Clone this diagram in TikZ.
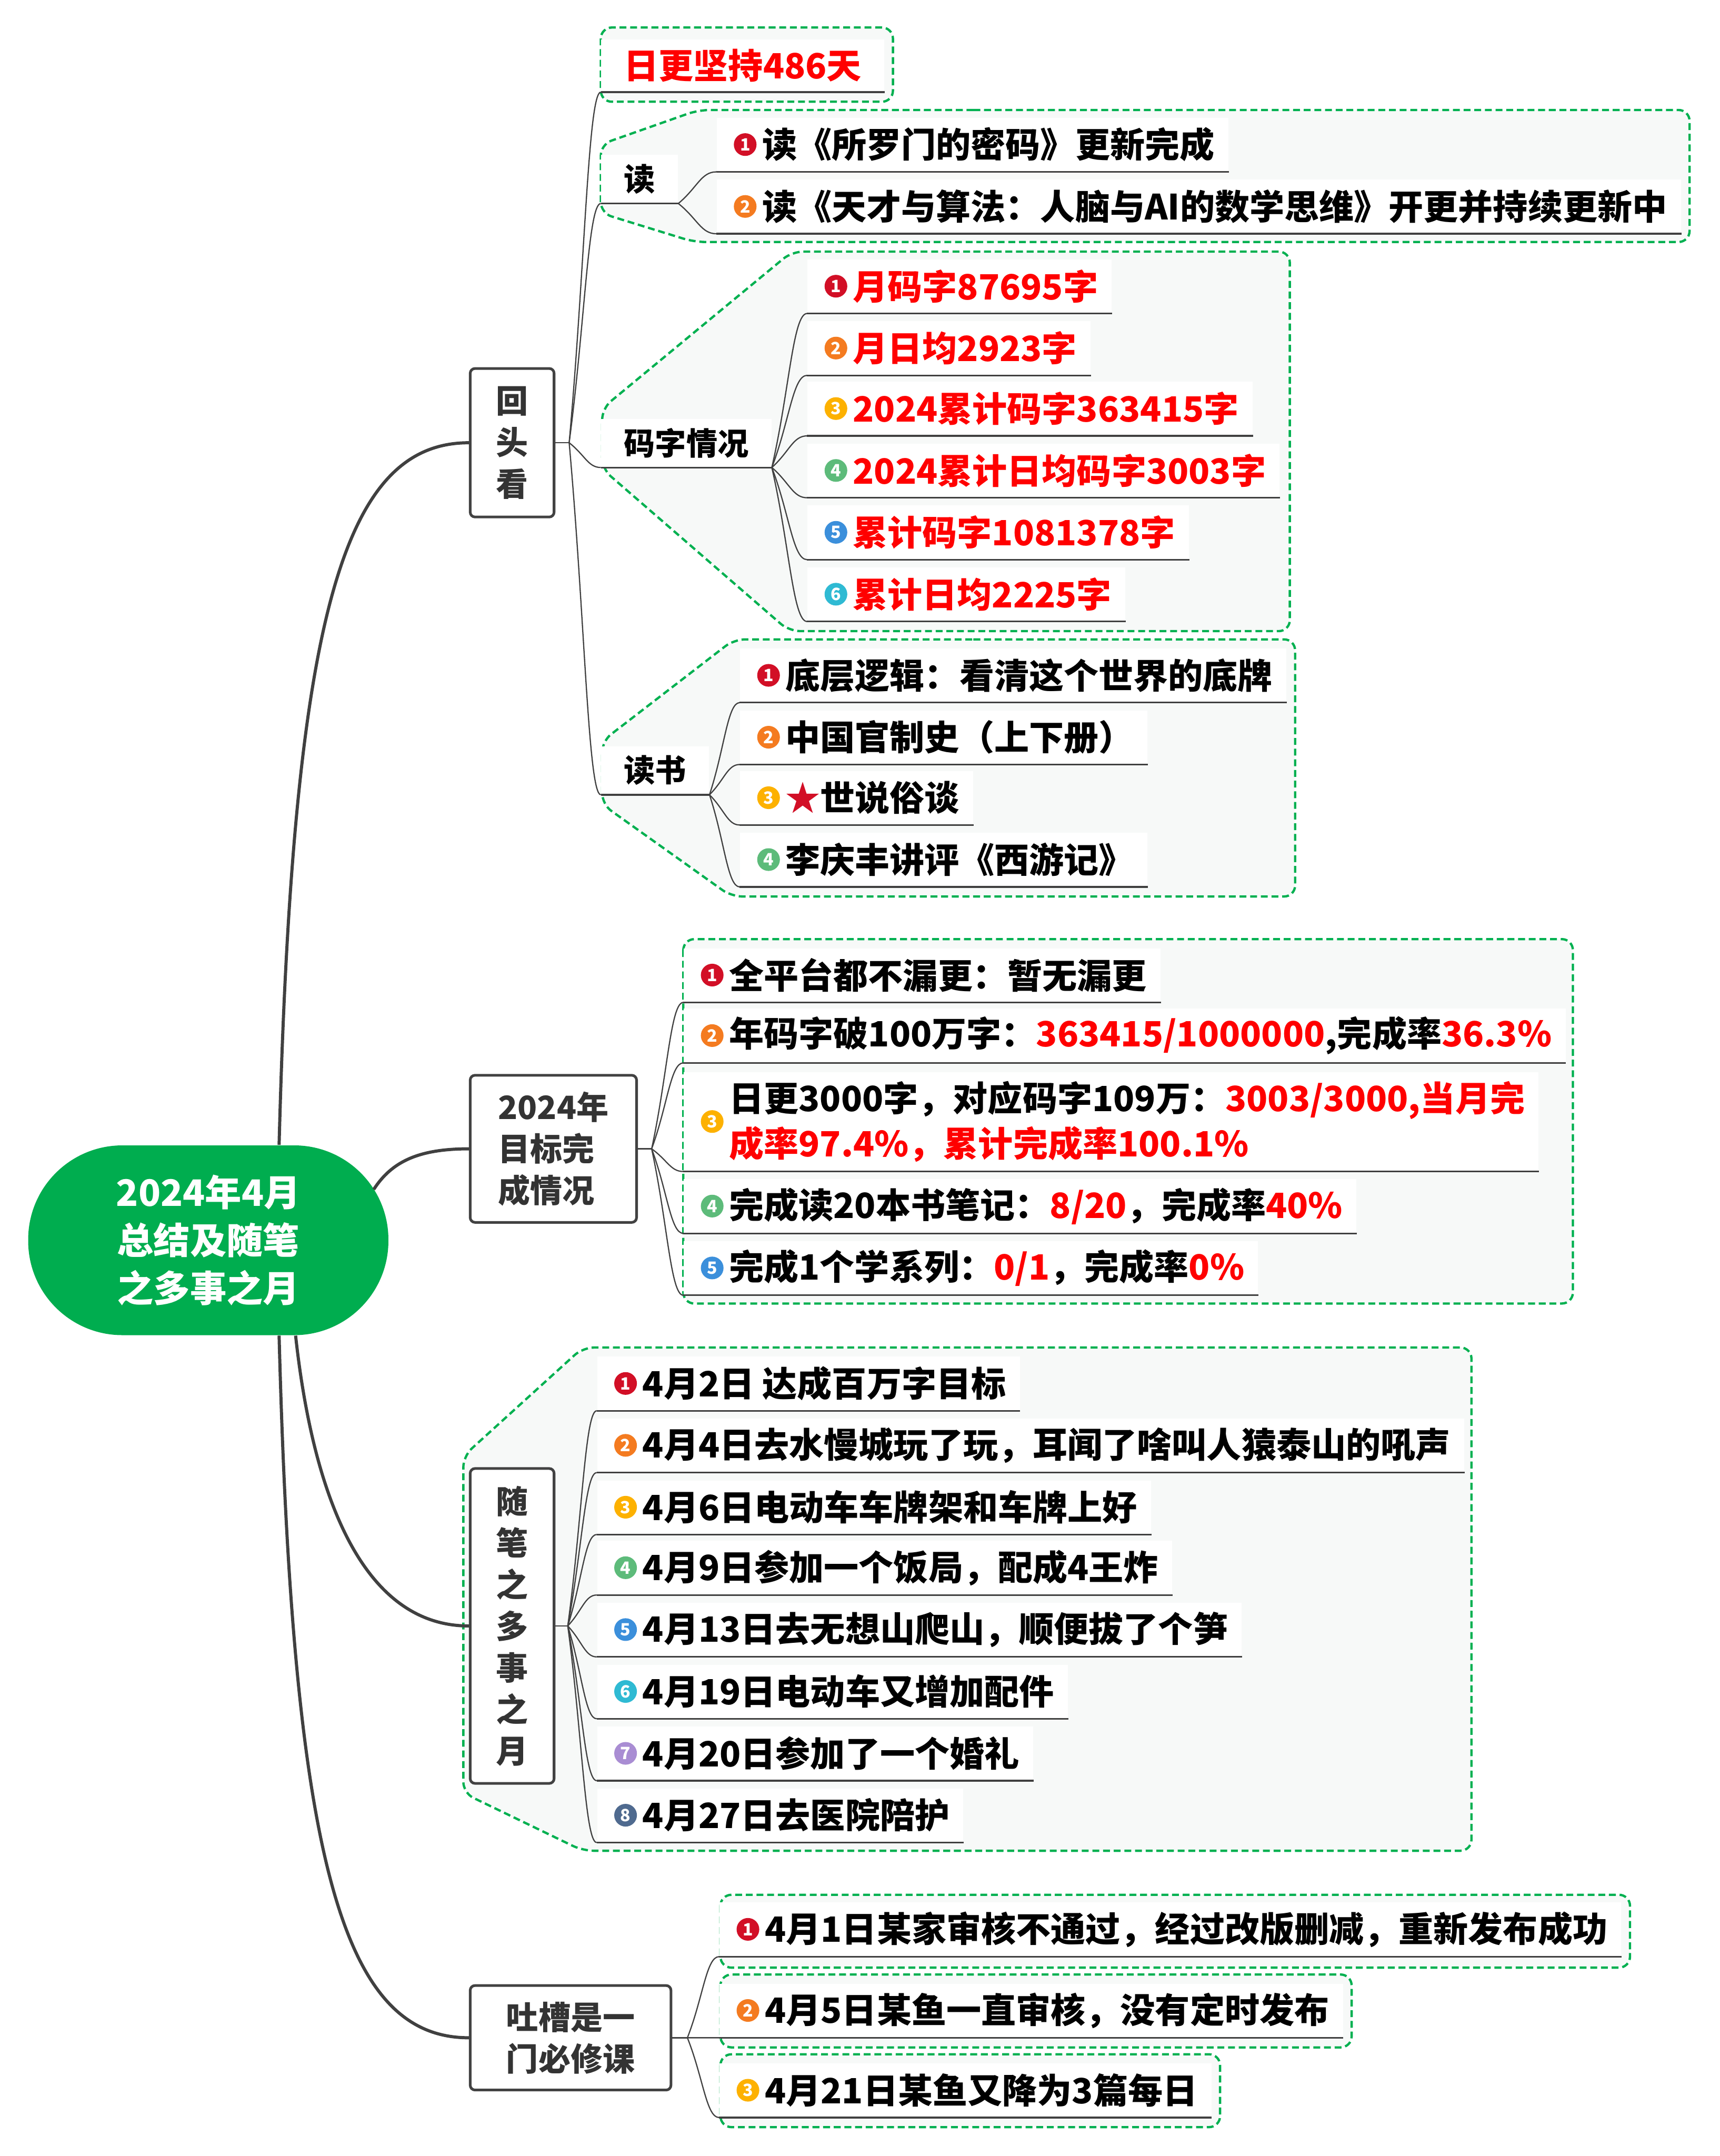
\documentclass[tikz,border=0pt]{standalone}
\usepackage{fontspec}
\setmainfont{Noto Sans CJK SC}
\usepackage{tikz}
\usetikzlibrary{calc, backgrounds}
\definecolor{rootgreen}{HTML}{00AD4F}
\definecolor{dashgreen}{HTML}{00B050}
\definecolor{zone}     {HTML}{F7F9F8}
\definecolor{wire}     {HTML}{404040}
\definecolor{boxline}  {HTML}{424242}
\definecolor{boxtext}  {HTML}{333333}
\definecolor{hl}       {HTML}{FF0000}
\definecolor{b1}{HTML}{D20F26}
\definecolor{b2}{HTML}{F47B20}
\definecolor{b3}{HTML}{FDB100}
\definecolor{b4}{HTML}{5DBB7A}
\definecolor{b5}{HTML}{3B8FDB}
\definecolor{b6}{HTML}{2FBAD3}
\definecolor{b7}{HTML}{A98DD3}
\definecolor{b8}{HTML}{4F6A8F}
\newcommand{\rootfont}{\fontsize{15.1}{19.9}\selectfont\bfseries}
\newcommand{\headfont}{\fontsize{13.3}{17.2}\selectfont\bfseries}
\newcommand{\topicfont}{\fontsize{12.9}{16}\selectfont\bfseries}
\newcommand{\itemfont}{\fontsize{14.4}{18.8}\selectfont\bfseries}

\begin{document}
\begin{tikzpicture}[x=0.2mm, y=-0.2mm,
    trunk/.style={draw=wire, line width=1.3pt},
    twig/.style={draw=wire, line width=0.5pt},
    branch/.style={twig, to path={.. controls ($(\tikztostart)!0.5!(\tikztotarget)$) and ($(\tikztostart |- \tikztotarget)!0.6!(\tikztotarget)$) .. (\tikztotarget) \tikztonodes}},
    uline/.style={draw=wire, line width=0.7pt},
    zonebox/.style={draw=dashgreen, fill=zone, line width=0.95pt, dash pattern=on 1mm off 0.55mm, rounded corners=1.6mm},
    root/.style={fill=rootgreen, text=white, rounded corners=13.7mm, minimum width=52.4mm, minimum height=27.6mm, align=center, font=\rootfont},
    head/.style={draw=boxline, line width=1.1pt, fill=white, rounded corners=0.7mm, text=boxtext, align=center, font=\headfont},
    topic/.style={anchor=south west, fill=white, inner xsep=3.3mm, inner ysep=0pt, minimum height=7mm, font=\topicfont},
    item/.style={anchor=south west, fill=white, inner xsep=2mm, inner ysep=0pt, minimum height=7.8mm, align=left, font=\itemfont},
    badge/.style={circle, fill=#1, inner sep=0pt, minimum size=3.3mm, text=white, font=\fontsize{7}{7}\selectfont\bfseries}]
  \useasboundingbox (0,0) rectangle (1251,1568);

  % centre and main topics
  \node[root] (root) at (151.5,902) {2024年4月\\总结及随笔\\之多事之月};
  \node[head, minimum width=12.2mm, minimum height=21.6mm] (hui) at (372.5,322) {回\\头\\看};
  \node[head, minimum width=24.2mm, minimum height=21.4mm, align=left] (goal) at (402.5,835.5) {2024年\\目标完\\成情况};
  \node[head, minimum width=12.2mm, minimum height=45.8mm] (sui) at (372.5,1182.5) {随\\笔\\之\\多\\事\\之\\月};
  \node[head, minimum width=29.2mm, minimum height=15.2mm, align=left] (tu) at (415,1482) {吐槽是一\\门必修课};

  \draw[trunk] ($(root.north)+(51.5,0)$) .. controls +(10,-383) and +(-92,0) .. (hui.west);
  \draw[trunk] ($(root.east)+(-11,-37)$) .. controls +(13,-20) and +(-37,0) .. (goal.west);
  \draw[trunk] ($(root.south)+(63.5,0)$) .. controls +(12,110) and +(-80,0) .. (sui.west);
  \draw[trunk] ($(root.south)+(51.5,0)$) .. controls +(10,383) and +(-92,0) .. (tu.west);

  % look back
  \node[topic, text=hl, font=\itemfont, minimum height=7.6mm] (rg) at (437,67) {日更坚持486天};
  \node[topic] (du) at (437,148) {读};
  \node[topic] (mz) at (437,340) {码字情况};
  \node[topic] (ds) at (437,578) {读书};
  \coordinate (hb) at ($(hui.east)+(10,0)$);
  \draw[twig] (hui.east) -- (hb);
  \foreach \t in {rg,du,mz,ds} {
    \draw[branch] (hb) to (\t.south west);
    \draw[uline] (\t.south west) -- (\t.south east);
  }

  \foreach \n/\yy/\tx in {1/125/{读《所罗门的密码》更新完成},
      2/170/{读《天才与算法：人脑与AI的数学思维》开更并持续更新中}} {
    \node[item] (du\n) at (521,\yy) {\hspace*{4.6mm}\tx};
    \node[badge=b\n] at ([xshift=4.2mm]du\n.west) {\n};
    \draw[branch] (du.south east) to (du\n.south west);
    \draw[uline] (du\n.south west) -- (du\n.south east);
  }

  \foreach \n/\yy/\tx in {1/228/{月码字87695字}, 2/273/{月日均2923字},
      3/317/{2024累计码字363415字}, 4/362/{2024累计日均码字3003字},
      5/407/{累计码字1081378字}, 6/452/{累计日均2225字}} {
    \node[item, text=hl] (mz\n) at (587,\yy) {\hspace*{4.6mm}\tx};
    \node[badge=b\n] at ([xshift=4.2mm]mz\n.west) {\n};
    \draw[branch] (mz.south east) to (mz\n.south west);
    \draw[uline] (mz\n.south west) -- (mz\n.south east);
  }

  \foreach \n/\yy/\tx in {1/511/{底层逻辑：看清这个世界的底牌}, 2/556/{中国官制史（上下册）},
      3/600/{\textcolor{b1}{★}世说俗谈}, 4/645/{李庆丰讲评《西游记》}} {
    \node[item] (ds\n) at (538,\yy) {\hspace*{4.6mm}\tx};
    \node[badge=b\n] at ([xshift=4.2mm]ds\n.west) {\n};
    \draw[branch] (ds.south east) to (ds\n.south west);
    \draw[uline] (ds\n.south west) -- (ds\n.south east);
  }

  % goals
  \coordinate (gb) at ($(goal.east)+(10,0)$);
  \draw[twig] (goal.east) -- (gb);
  \foreach \n/\yy/\tx in {1/729/{全平台都不漏更：暂无漏更},
      2/773/{年码字破100万字：\textcolor{hl}{363415/1000000},完成率\textcolor{hl}{36.3\%}},
      4/897/{完成读20本书笔记：\textcolor{hl}{8/20}，完成率\textcolor{hl}{40\%}},
      5/942/{完成1个学系列：\textcolor{hl}{0/1}，完成率\textcolor{hl}{0\%}}} {
    \node[item] (g\n) at (497,\yy) {\hspace*{4.6mm}\tx};
  }
  \node[item, minimum height=14.4mm] (g3) at (497,852) {\hspace*{4.6mm}日更3000字，对应码字109万：\textcolor{hl}{3003/3000,当月完}\\\hspace*{4.6mm}\textcolor{hl}{成率97.4\%，累计完成率100.1\%}};
  \foreach \n in {1,...,5} {
    \node[badge=b\n] at ([xshift=4.2mm]g\n.west) {\n};
    \draw[branch] (gb) to (g\n.south west);
    \draw[uline] (g\n.south west) -- (g\n.south east);
  }

  % essays
  \coordinate (sb) at ($(sui.east)+(9,0)$);
  \draw[twig] (sui.east) -- (sb);
  \foreach \n/\yy/\tx in {1/1026/{4月2日 达成百万字目标},
      2/1071/{4月4日去水慢城玩了玩，耳闻了啥叫人猿泰山的吼声},
      3/1116/{4月6日电动车车牌架和车牌上好}, 4/1160/{4月9日参加一个饭局，配成4王炸},
      5/1205/{4月13日去无想山爬山，顺便拔了个笋}, 6/1250/{4月19日电动车又增加配件},
      7/1295/{4月20日参加了一个婚礼}, 8/1340/{4月27日去医院陪护}} {
    \node[item] (s\n) at (434,\yy) {\hspace*{4.6mm}\tx};
    \node[badge=b\n] at ([xshift=4.2mm]s\n.west) {\n};
    \draw[branch] (sb) to (s\n.south west);
    \draw[uline] (s\n.south west) -- (s\n.south east);
  }

  % complaints
  \coordinate (tb) at ($(tu.east)+(11,0)$);
  \draw[twig] (tu.east) -- (tb);
  \foreach \n/\yy/\tx in {1/1423/{4月1日某家审核不通过，经过改版删减，重新发布成功},
      2/1482/{4月5日某鱼一直审核，没有定时发布}, 3/1540/{4月21日某鱼又降为3篇每日}} {
    \node[item] (t\n) at (523,\yy) {\hspace*{4.6mm}\tx};
    \node[badge=b\n] at ([xshift=4.2mm]t\n.west) {\n};
    \draw[branch] (tb) to (t\n.south west);
    \draw[uline] (t\n.south west) -- (t\n.south east);
  }

  % boundaries
  \begin{scope}[on background layer]
    \coordinate (rgR) at ($(rg.east)+(6,0)$);
    \coordinate (duR) at ($(du2.east)+(6,0)$);
    \coordinate (mzR) at ($(mz4.east)+(7,0)$);
    \coordinate (dsR) at ($(ds1.east)+(6,0)$);
    \coordinate (gR) at ($(g2.east)+(5,0)$);
    \coordinate (sR) at ($(s2.east)+(5,0)$);
    \draw[zonebox] (437,20) rectangle (rgR |- 0,74);
    \draw[zonebox] (700,80) -- (duR |- 0,80) -- (duR |- 0,176) -- (505,176) -- (437,155) -- (437,105) -- (508,80) -- cycle;
    \draw[zonebox] (700,183) -- (mzR |- 0,183) -- (mzR |- 0,459) -- (574,459) -- (438,341) -- (438,297) -- (576,183) -- cycle;
    \draw[zonebox] (700,465) -- (dsR |- 0,465) -- (dsR |- 0,652) -- (532,652) -- (438,585) -- (438,539) -- (534,465) -- cycle;
    \draw[zonebox] (497,683) rectangle (gR |- 0,948);
    \draw[zonebox] (700,980) -- (sR |- 0,980) -- (sR |- 0,1346) -- (424,1346) -- (337,1304) -- (337,1059) -- (424,980) -- cycle;
    \foreach \n/\ya/\yb in {1/1378/1431, 2/1436/1489, 3/1494/1547} {
      \coordinate (tR) at ($(t\n.east)+(6,0)$);
      \draw[zonebox] (524,\ya) rectangle (tR |- 0,\yb);
    }
  \end{scope}
\end{tikzpicture}
\end{document}
